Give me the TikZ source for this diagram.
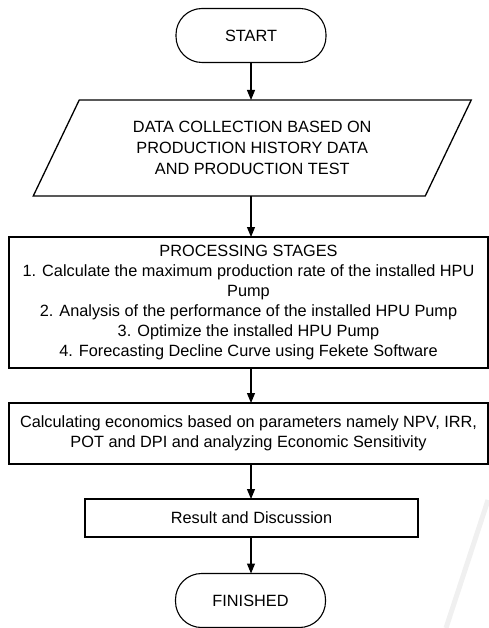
\documentclass[tikz,border=0pt]{standalone}
\usepackage{fontspec}
\setmainfont{Liberation Sans}
\usetikzlibrary{arrows.meta,calc}
\begin{document}
\begin{tikzpicture}[x=1pt,y=-1pt,
  every node/.style={font=\fontsize{16.3}{20}\selectfont, inner sep=0pt, outer sep=0pt},
  terminal/.style={draw, line width=1.1pt, rounded corners=26pt, minimum width=150pt, minimum height=54pt},
  procbox/.style={draw, line width=1.3pt, align=center},
  arr/.style={line width=1.1pt, -{Triangle[length=10pt,width=8pt]}}]
\useasboundingbox (0,0) rectangle (489,628);
% faint watermark stroke
\draw[gray!12, line width=5pt] (488,500) -- (446,628);

\node[terminal] (start) at (251,35.5) {START};
\node[minimum width=392pt, minimum height=96pt, align=center,
      font=\fontsize{16.3}{21}\selectfont] (data) at (252.25,148)
  {DATA COLLECTION BASED ON\\PRODUCTION HISTORY DATA\\AND PRODUCTION TEST};
\draw[line width=1.3pt] ($(data.north west)+(23,0)$) -- ($(data.north east)+(23,0)$)
  -- ($(data.south east)+(-23,0)$) -- ($(data.south west)+(-23,0)$) -- cycle;
\node[procbox, minimum width=479pt, minimum height=131pt] (proc) at (248.5,302.5)
  {PROCESSING STAGES\\
   1. Calculate the maximum production rate of the installed HPU\\
   Pump\\
   2. Analysis of the performance of the installed HPU Pump\\
   3. Optimize the installed HPU Pump\\
   4. Forecasting Decline Curve using Fekete Software};
\node[procbox, minimum width=479pt, minimum height=61pt] (econ) at (248.5,433.5)
  {Calculating economics based on parameters namely NPV, IRR,\\
   POT and DPI and analyzing Economic Sensitivity};
\node[procbox, minimum width=333pt, minimum height=38pt] (res) at (251.5,518)
  {Result and Discussion};
\node[terminal] (fin) at (250.5,600.5) {FINISHED};

\draw[arr] (start.south) -- (start.south |- data.north);
\draw[arr] (start.south |- data.south) -- (start.south |- proc.north);
\draw[arr] (start.south |- proc.south) -- (start.south |- econ.north);
\draw[arr] (start.south |- econ.south) -- (start.south |- res.north);
\draw[arr] (start.south |- res.south) -- (start.south |- fin.north);
\end{tikzpicture}
\end{document}
